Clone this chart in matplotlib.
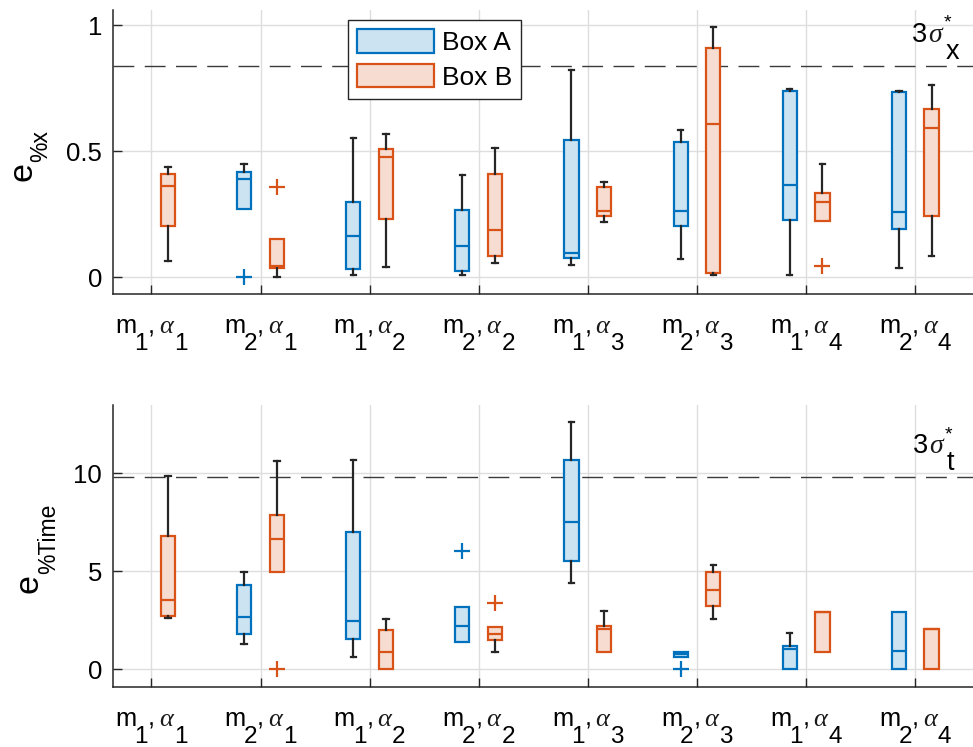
import numpy as np
import matplotlib.pyplot as plt
from matplotlib.patches import Patch
from matplotlib.transforms import Affine2D

plt.rcParams['font.family'] = 'Liberation Sans'

# group labels m_i, alpha_j
m_idx = [1, 2, 1, 2, 1, 2, 1, 2]
a_idx = [1, 1, 2, 2, 3, 3, 4, 4]

# each box: [whislo, q1, med, q3, whishi]
ex_a = [None,
        [0.27, 0.27, 0.391, 0.418, 0.451],
        [0.008, 0.034, 0.164, 0.298, 0.554],
        [0.008, 0.025, 0.123, 0.267, 0.406],
        [0.049, 0.075, 0.095, 0.546, 0.821],
        [0.074, 0.204, 0.264, 0.537, 0.585],
        [0.008, 0.227, 0.367, 0.739, 0.747],
        [0.037, 0.192, 0.258, 0.735, 0.740]]
ex_a_out = [[], [0.002], [], [], [], [], [], []]
ex_b = [[0.063, 0.204, 0.361, 0.411, 0.439],
        [0.002, 0.036, 0.046, 0.152, 0.152],
        [0.04, 0.231, 0.476, 0.509, 0.569],
        [0.057, 0.085, 0.188, 0.41, 0.512],
        [0.221, 0.244, 0.264, 0.36, 0.377],
        [0.009, 0.017, 0.608, 0.91, 0.992],
        [0.222, 0.222, 0.298, 0.336, 0.448],
        [0.085, 0.244, 0.594, 0.669, 0.764]]
ex_b_out = [[], [0.358], [], [], [], [], [0.046], []]

et_a = [None,
        [1.29, 1.8, 2.68, 4.31, 4.98],
        [0.61, 1.53, 2.48, 6.98, 10.65],
        [1.41, 1.41, 2.19, 3.18, 3.18],
        [4.38, 5.52, 7.51, 10.65, 12.59],
        [0.64, 0.64, 0.78, 0.9, 0.9],
        [0.0, 0.0, 1.05, 1.19, 1.87],
        [0.0, 0.0, 0.95, 2.92, 2.92]]
et_a_out = [[], [], [], [6.05], [], [0.0], [], []]
et_b = [[2.63, 2.73, 3.53, 6.79, 9.84],
        [4.98, 4.98, 6.64, 7.86, 10.6],
        [0.0, 0.0, 0.87, 2.0, 2.56],
        [0.87, 1.49, 1.78, 2.17, 2.17],
        [0.9, 0.9, 2.04, 2.21, 2.97],
        [2.58, 3.24, 4.04, 4.94, 5.32],
        [0.9, 0.9, 2.92, 2.92, 2.92],
        [0.0, 0.0, 2.07, 2.07, 2.07]]
et_b_out = [[], [0.0], [], [3.36], [], [], [], []]

sigma_x = 0.84
sigma_t = 9.79

blue, blue_fill = '#0072BD', '#CCE3F2'
orange, orange_fill = '#D95319', '#F7DDD1'
dark = '#262626'

sans = dict(family='Liberation Sans', color='black')
greek = dict(family='Liberation Serif', style='italic', color='#1A1A1A')


def draw_boxes(ax, boxes, outliers, offset, edge, fill):
    stats, pos = [], []
    for i, (b, o) in enumerate(zip(boxes, outliers)):
        if b is None:
            continue
        stats.append(dict(whislo=b[0], q1=b[1], med=b[2], q3=b[3], whishi=b[4], fliers=o))
        pos.append(i + 1 + offset)
    art = ax.bxp(stats, positions=pos, widths=0.13, capwidths=0.05, patch_artist=True,
                 boxprops=dict(facecolor=fill, edgecolor=edge, linewidth=1.6),
                 medianprops=dict(color=edge, linewidth=1.6),
                 whiskerprops=dict(color=dark, linewidth=1.6),
                 capprops=dict(color=dark, linewidth=1.6),
                 flierprops=dict(marker='+', markeredgecolor=edge, markersize=11,
                                 markeredgewidth=1.6, linestyle='none'),
                 manage_ticks=False)
    # no caps on whiskers of zero length
    for k, s in enumerate(stats):
        if s['whislo'] == s['q1']:
            art['caps'][2 * k].set_visible(False)
        if s['whishi'] == s['q3']:
            art['caps'][2 * k + 1].set_visible(False)
    return art


def rich_text(ax, x, y, transform, parts, center=False, vertical=False):
    """Write text pieces one after another; each piece is
    (string, gap_px, dy_px, size, props, advance)."""
    renderer = ax.figure.canvas.get_renderer()

    def shift(c, dy):
        if vertical:
            return Affine2D().translate(-dy, c)
        return Affine2D().translate(c, dy)

    placed, cursor = [], 0.0
    for s, gap, dy, size, props, advance in parts:
        cursor += gap
        t = ax.text(x, y, s, transform=transform + shift(cursor, dy),
                    ha='left', va='baseline', fontsize=size, clip_on=False,
                    rotation=90 if vertical else 0, rotation_mode='anchor', **props)
        placed.append((t, cursor, dy))
        if advance:
            ext = t.get_window_extent(renderer)
            cursor += ext.height if vertical else ext.width
    if center:
        for t, c, dy in placed:
            t.set_transform(transform + shift(c - cursor / 2, dy))


def group_labels(ax):
    ax.set_xticklabels([])
    for i, (m, a) in enumerate(zip(m_idx, a_idx)):
        parts = [('m', 0, -39, 18.4, sans, True),
                 (str(m), -2, -56, 17.5, sans, True),
                 (',', 0, -39, 18.4, sans, True),
                 ('\u03b1', 4, -39, 19, greek, True),
                 (str(a), 1, -56, 17.5, sans, True)]
        rich_text(ax, i + 1, 0, ax.get_xaxis_transform(), parts, center=True)


def axis_label(ax, x, y, sub, dy):
    parts = [('e', 0, 0, 24.5, sans, True),
             ('%' + sub, 0, dy, 16.5, sans, True)]
    rich_text(ax, x, y, ax.transAxes, parts, vertical=True)


def sigma_label(ax, x, y, sub):
    parts = [('3', 0, 0, 19.5, sans, True),
             ('\u03c3', 1, 0, 20, greek, True),
             ('*', 2, 14, 14, sans, False),
             (sub, 2, -17, 19.5, sans, True)]
    rich_text(ax, x, y, ax.transData, parts)


def style(ax, ylim, yticks):
    ax.set_xlim(0.65, 8.53)
    ax.set_ylim(*ylim)
    ax.set_xticks(np.arange(1, 9))
    ax.set_yticks(yticks)
    ax.set_yticklabels([f'{t:g}' for t in yticks])
    ax.grid(True, color='#DEDEDE', linewidth=1.0)
    ax.set_axisbelow(True)
    for s in ['top', 'right']:
        ax.spines[s].set_visible(False)
    for s in ['left', 'bottom']:
        ax.spines[s].set_color(dark)
        ax.spines[s].set_linewidth(1.1)
    ax.tick_params(axis='both', direction='in', length=6.5, width=1.0, color=dark,
                   labelsize=18.5, labelcolor='black')
    ax.tick_params(axis='y', pad=8)


fig = plt.figure(figsize=(9.73, 7.47), dpi=100)
ax1 = fig.add_axes([0.1164, 0.6064, 0.8836, 0.3802])
ax2 = fig.add_axes([0.1164, 0.0807, 0.8836, 0.3771])

# position error panel
ax1.axhline(sigma_x, color='#3A3A3A', linewidth=1.0, dashes=(15, 7.5), zorder=1.5)
draw_boxes(ax1, ex_a, ex_a_out, -0.15, blue, blue_fill)
draw_boxes(ax1, ex_b, ex_b_out, 0.15, orange, orange_fill)
style(ax1, (-0.066, 1.06), [0, 0.5, 1])
group_labels(ax1)
axis_label(ax1, -0.0946, 0.398, 'x', -15)
sigma_label(ax1, 7.97, 0.934, 'x')

handles = [Patch(facecolor=blue_fill, edgecolor=blue, linewidth=1.6),
           Patch(facecolor=orange_fill, edgecolor=orange, linewidth=1.6)]
leg = ax1.legend(handles, ['Box A', 'Box B'], loc='upper left', bbox_to_anchor=(0.273, 0.965),
                 fontsize=19, handlelength=2.9, handleheight=1.0, labelspacing=0.33,
                 handletextpad=0.3, borderpad=0.35, borderaxespad=0, fancybox=False,
                 framealpha=1, edgecolor=dark)
leg.get_frame().set_linewidth(1.0)

# time error panel
ax2.axhline(sigma_t, color='#3A3A3A', linewidth=1.0, dashes=(15, 7.5), zorder=1.5)
draw_boxes(ax2, et_a, et_a_out, -0.15, blue, blue_fill)
draw_boxes(ax2, et_b, et_b_out, 0.15, orange, orange_fill)
style(ax2, (-0.89, 13.47), [0, 5, 10])
group_labels(ax2)
axis_label(ax2, -0.0876, 0.333, 'Time', -17)
sigma_label(ax2, 7.98, 11.02, 't')

fig.savefig('out.png', dpi=100)
